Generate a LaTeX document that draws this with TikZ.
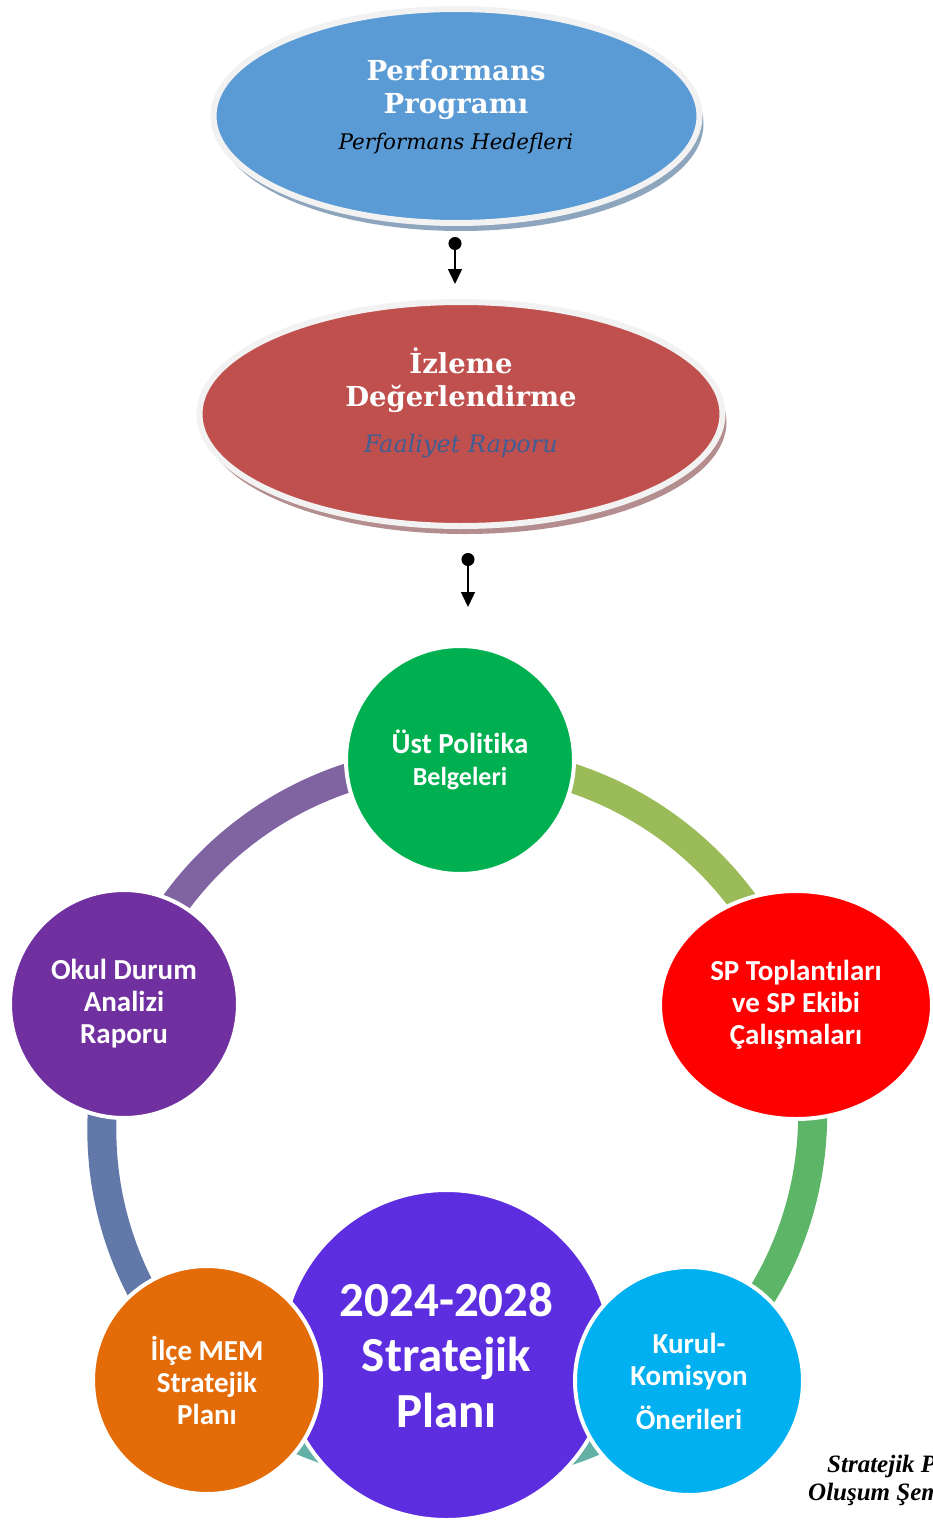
\documentclass[tikz,border=0pt]{standalone}
\usepackage{fontspec}
\setmainfont{DejaVu Serif}
\setsansfont{Carlito}[Ligatures=NoCommon]
\newfontfamily\capfont{Liberation Serif}
\usetikzlibrary{shapes.geometric,arrows.meta,shadows}
\pgfdeclarelayer{bg}
\pgfsetlayers{bg,main}
\definecolor{perfblue}{HTML}{5B9BD5}
\definecolor{perfshade}{HTML}{8EA5BE}
\definecolor{izred}{HTML}{C0504D}
\definecolor{izshade}{HTML}{B48E8E}
\definecolor{ringgray}{HTML}{F2F2F2}
\definecolor{faalblue}{HTML}{3F5E94}
\definecolor{ustgreen}{HTML}{00B050}
\definecolor{spred}{HTML}{FF0000}
\definecolor{kurulcyan}{HTML}{00B0F0}
\definecolor{ilceorange}{HTML}{E36C09}
\definecolor{okulpurple}{HTML}{7030A0}
\definecolor{planviolet}{HTML}{5D2EE0}
\definecolor{arcviolet}{HTML}{8064A2}
\definecolor{arcolive}{HTML}{9BBB59}
\definecolor{arcgreen}{HTML}{5DB567}
\definecolor{arcslate}{HTML}{6178A9}
\definecolor{arcteal}{HTML}{63B0A6}
\begin{document}
\begin{tikzpicture}[x=1pt,y=1pt]
\tikzstyle{every node}+=[inner sep=0pt]
\tikzstyle{oval}=[ellipse, draw=ringgray, line width=6pt]
\tikzstyle{disc}=[circle, draw=white, line width=4pt, minimum size=228pt, text=white, align=center, font=\sffamily\bfseries\fontsize{29}{32}\selectfont]
\tikzstyle{band}=[line width=29pt, bend right=36, looseness=0.95]
\tikzstyle{link}=[line width=1.5pt, {Circle[length=13pt]}-{Triangle[length=15pt,width=14pt]}]
\tikzstyle{title}=[text=white, align=center, font=\bfseries\fontsize{27.5}{33}\selectfont]
\tikzstyle{caption}=[anchor=base west, font=\capfont\bfseries\itshape\fontsize{25}{28}\selectfont]

\useasboundingbox (0,0) rectangle (932,-1522);

\draw (456.5,-116) node[oval, fill=perfblue, minimum width=486pt, minimum height=214pt, drop shadow={shadow xshift=4pt, shadow yshift=-8pt, fill=perfshade, opacity=1}] (perf) {};
\draw (456,-90) node[title] (perfhead) {Performans\\Programı};
\draw (456,-150) node[anchor=base, font=\itshape\fontsize{21.5}{26}\selectfont] (perfsub) {Performans Hedefleri};

\draw (461,-414) node[oval, fill=izred, minimum width=523pt, minimum height=224pt, drop shadow={shadow xshift=4pt, shadow yshift=-8pt, fill=izshade, opacity=1}] (izle) {};
\draw (461,-380) node[title] (izlehead) {İzleme\\Değerlendirme};
\draw (461,-452) node[anchor=base, text=faalblue, font=\itshape\fontsize{24}{28}\selectfont] (izlesub) {Faaliyet Raporu};

\coordinate (l1a) at (455,-237);
\coordinate (l1b) at (455,-284);
\draw[link] (l1a) -- (l1b);
\coordinate (l2a) at (468,-553);
\coordinate (l2b) at (468,-607);
\draw[link] (l2a) -- (l2b);

\draw (446.5,-1355) node[disc, fill=planviolet, minimum size=330pt, font=\sffamily\bfseries\fontsize{49}{55.5}\selectfont] (plan) {2024-2028\\Stratejik\\Planı};
\draw (460,-760) node[disc, fill=ustgreen] (ust) {Üst Politika\\{\fontsize{26}{31}\selectfont Belgeleri}};
\draw (796,-1005) node[disc, ellipse, fill=spred, minimum width=272pt, minimum height=228pt] (sp) {SP Toplantıları\\ve SP Ekibi\\Çalışmaları};
\draw (124,-1004) node[disc, fill=okulpurple] (okul) {Okul Durum\\Analizi\\Raporu};
\draw (207,-1380) node[disc, fill=ilceorange] (ilce) {İlçe MEM\\Stratejik\\Planı};
\draw (689,-1381) node[disc, fill=kurulcyan] (kurul) {Kurul-\\Komisyon\\[12pt]Önerileri};

\begin{pgfonlayer}{bg}
\draw[band, arcviolet] (ust.center) to (okul.center);
\draw[band, arcslate, bend right=32] (okul.center) to (ilce.center);
\draw[band, arcteal, bend right=42] (ilce.center) to (kurul.center);
\draw[band, arcgreen, bend right=33] (kurul.center) to (sp.center);
\draw[band, arcolive] (sp.center) to (ust.center);
\end{pgfonlayer}

\begin{scope}
\clip (0,0) rectangle (932,-1522);
\draw (827,-1472) node[caption] (cap1) {Stratejik Plan};
\draw (808,-1500) node[caption] (cap2) {Oluşum Şeması};
\end{scope}
\end{tikzpicture}
\end{document}
